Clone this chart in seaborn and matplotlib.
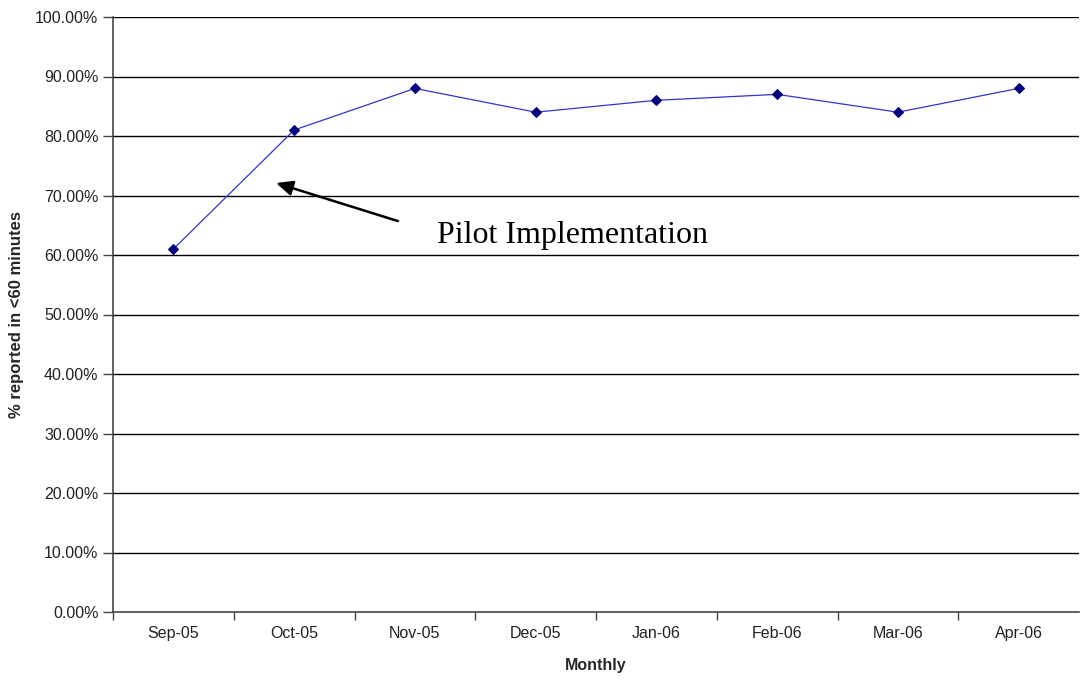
import numpy as np
import pandas as pd
import seaborn as sbn
from matplotlib import pyplot as plt
from matplotlib.ticker import FixedLocator, PercentFormatter

# chart data
months = ['Sep-05', 'Oct-05', 'Nov-05', 'Dec-05', 'Jan-06', 'Feb-06', 'Mar-06', 'Apr-06']
pct_reported = [61, 81, 88, 84, 86, 87, 84, 88]

mydata = pd.DataFrame({'month': months, 'pct': pct_reported})
mydata['pos'] = np.arange(len(months))

sbn.set_style('white')
plt.rcParams['font.family'] = ['Liberation Sans', 'DejaVu Sans']

fig = plt.figure(figsize=(10.81, 6.79), dpi=100)
ax = fig.add_axes([113 / 1081, 1 - 612 / 679, (1079 - 113) / 1081, (612 - 17) / 679])

# gridlines
for v in range(10, 101, 10):
    ax.axhline(v, color='black', linewidth=1, zorder=1)

ax = sbn.lineplot(x='pos', y='pct', data=mydata, color='#3333cc', linewidth=0.9,
                  marker='D', markersize=5, markerfacecolor='#000080',
                  markeredgecolor='#000080', ax=ax, zorder=3)

ax.set_xlim(-0.5, len(months) - 0.5)
ax.set_ylim(0, 100)
ax.yaxis.set_major_locator(FixedLocator(range(0, 101, 10)))
ax.yaxis.set_major_formatter(PercentFormatter(decimals=2))
ax.set_xticks(mydata['pos'])
ax.set_xticklabels(months)
ax.xaxis.set_minor_locator(FixedLocator(np.arange(-0.5, len(months) - 1, 1)))
ax.tick_params(axis='x', which='major', length=0, labelsize=11.5, pad=10, colors='#222222')
ax.tick_params(axis='x', which='minor', length=6, width=1, color='#444444', bottom=True)
ax.tick_params(axis='y', length=7, width=1, color='#444444', labelsize=11.5,
               labelcolor='#222222', left=True)

for side in ['top', 'right']:
    ax.spines[side].set_visible(False)
for side in ['left', 'bottom']:
    ax.spines[side].set_color('#444444')
    ax.spines[side].set_linewidth(1.2)

ax.set_xlabel('Monthly', fontsize=11.5, fontweight='bold', labelpad=12)
ax.set_ylabel('% reported in <60 minutes', fontsize=12, fontweight='bold', labelpad=8)

# annotation
ax.annotate('', xy=(0.85, 72.1), xytext=(1.86, 65.7),
            arrowprops=dict(arrowstyle='-|>,head_length=1.0,head_width=0.45',
                            color='black', linewidth=1.8, shrinkA=0, shrinkB=0))
ax.text(2.18, 62.0, 'Pilot Implementation', fontsize=23, color='black',
        family=['Liberation Serif', 'DejaVu Serif'], va='baseline', ha='left')

plt.savefig('out.png', dpi=100)
